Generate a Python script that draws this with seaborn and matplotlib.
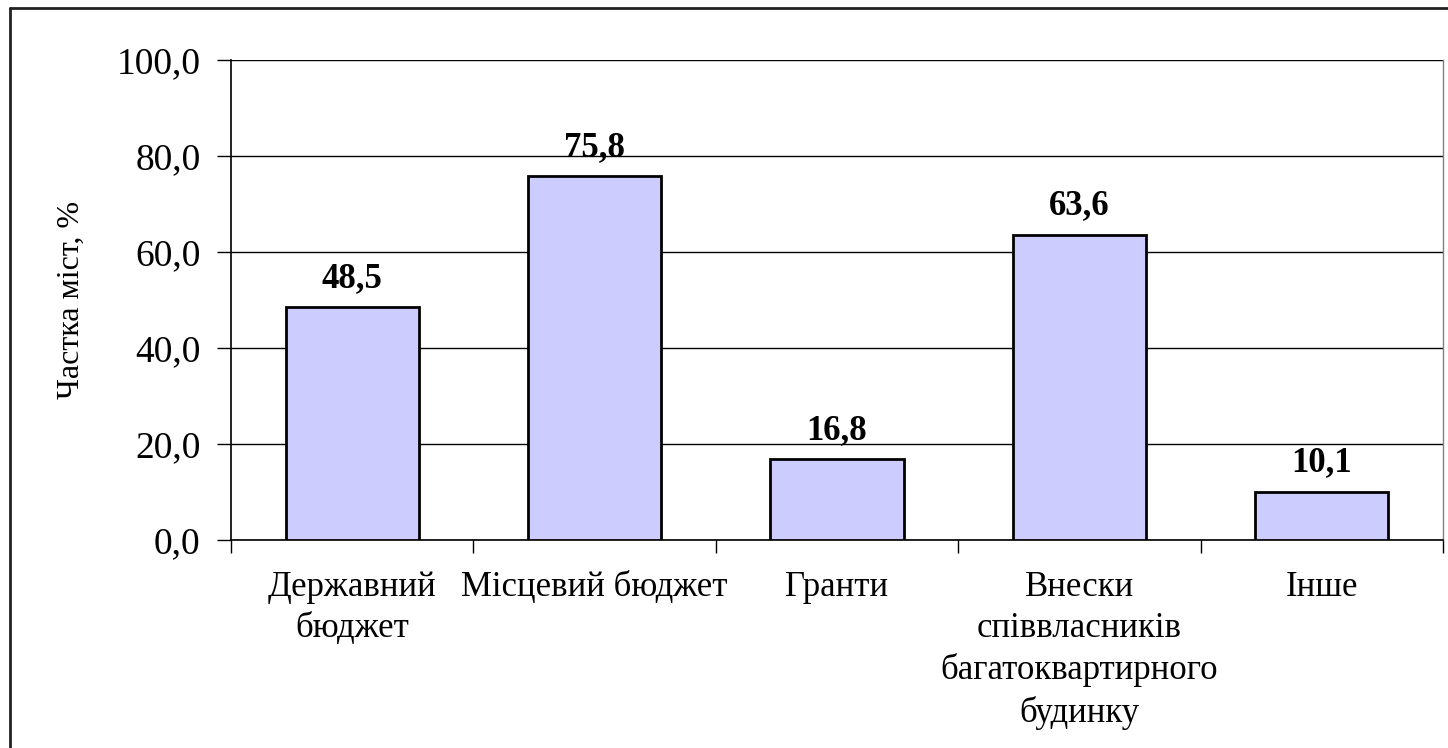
import numpy as np
import pandas as pd
import matplotlib
matplotlib.use("Agg")
import matplotlib.pyplot as plt
import seaborn as sns
from matplotlib.lines import Line2D

categories = ["Державний\nбюджет", "Місцевий бюджет", "Гранти",
              "Внески\nспіввласників\nбагатоквартирного\nбудинку", "Інше"]
values = [48.5, 75.8, 16.8, 63.6, 10.1]
y_ticks = [0, 20, 40, 60, 80, 100]

sns.set_theme(style="white")
plt.rcParams['font.family'] = ['Liberation Serif', 'DejaVu Serif']
plt.rcParams['text.color'] = 'black'
plt.rcParams['axes.labelcolor'] = 'black'
plt.rcParams['xtick.color'] = 'black'
plt.rcParams['ytick.color'] = 'black'

data = pd.DataFrame({"category": categories, "value": values})

fig = plt.figure(figsize=(14.48, 7.48), dpi=100)
ax = fig.add_axes([231 / 1448, 208 / 748, 1212 / 1448, 480 / 748])

sns.barplot(data=data, x="category", y="value", ax=ax, color="#CCCCFF",
            saturation=1, width=0.55, edgecolor="black", linewidth=2, zorder=3)

ax.set_ylim(0, 100)
ax.set_xlim(-0.5, len(categories) - 0.5)
ax.set_yticks(y_ticks)
ax.set_yticklabels([f"{t:.1f}".replace(".", ",") for t in y_ticks], fontsize=27)
ax.set_xticks(np.arange(len(categories) + 1) - 0.5)
ax.set_xticklabels([])
ax.set_xticks(np.arange(len(categories)), minor=True)
ax.set_xticklabels(categories, minor=True, fontsize=25, linespacing=1.33)
ax.tick_params(axis="x", which="minor", length=0, pad=22)
ax.tick_params(axis="x", which="major", direction="out", length=9, width=1, color="black", bottom=True)
ax.tick_params(axis="y", direction="out", length=10, width=1, color="black", left=True, pad=12)

ax.yaxis.grid(True, color="black", linewidth=1)
ax.set_axisbelow(True)
ax.set_xlabel("")
ax.set_ylabel("Частка міст, %", fontsize=23, labelpad=22)

for s in ["left", "bottom"]:
    ax.spines[s].set_color("black")
    ax.spines[s].set_linewidth(1.2)
ax.spines["top"].set_visible(False)
ax.spines["right"].set_color("#808080")
ax.spines["right"].set_linewidth(1)

for i, v in enumerate(values):
    ax.annotate(f"{v:.1f}".replace(".", ","), (i, v), xytext=(0, 9),
                textcoords="offset points", ha="center", va="bottom",
                fontsize=25, fontweight="bold", color="black", zorder=4)

# outer chart frame (left and top edges visible)
fig.add_artist(Line2D([10 / 1448, 10 / 1448], [0, 740 / 748], color="#222222", linewidth=2,
                      transform=fig.transFigure))
fig.add_artist(Line2D([10 / 1448, 1], [740 / 748, 740 / 748], color="#222222", linewidth=2,
                      transform=fig.transFigure))

fig.savefig("out.png", dpi=100)
